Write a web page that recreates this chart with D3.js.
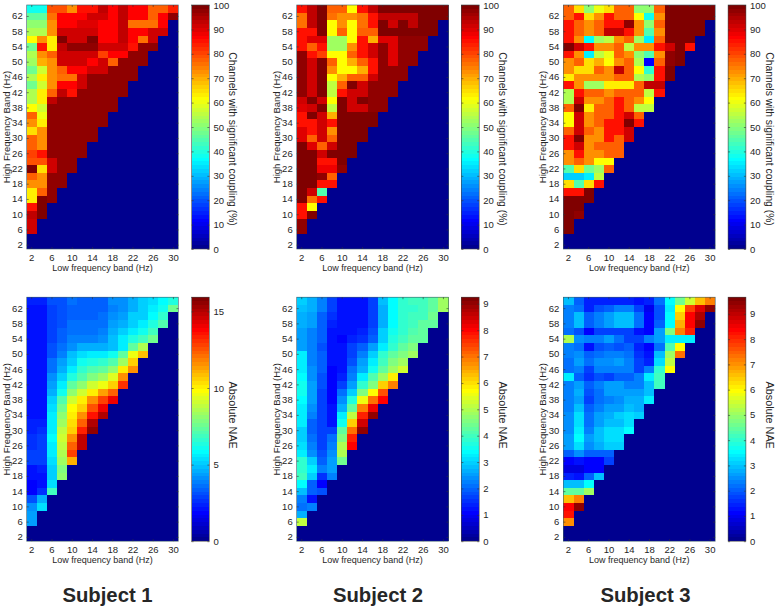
<!DOCTYPE html>
<html lang="en">

<head>
    <meta charset="utf-8">
    <title>Cross-frequency coupling by subject</title>
    <script type="text/javascript" src="https://d3js.org/d3.v7.min.js"></script>
    <style type="text/css">
        html, body {
            margin: 0;
            padding: 0;
            background: #fff;
        }

        svg text {
            font-family: "Liberation Sans", Arial, sans-serif;
            fill: #262626;
        }

        .domain {
            display: none;
        }

        .tick line {
            stroke: #333;
            stroke-width: 0.6;
        }
    </style>
</head>

<body>
    <script type="text/javascript">

        var lowBands = [2, 4, 6, 8, 10, 12, 14, 16, 18, 20, 22, 24, 26, 28, 30];
        var highBands = [64, 62, 60, 58, 56, 54, 52, 50, 48, 46, 44, 42, 40, 38, 36, 34,
            32, 30, 28, 26, 24, 22, 20, 18, 16, 14, 12, 10, 8, 6, 4, 2];
        var lowTicks = [2, 6, 10, 14, 18, 22, 26, 30];
        var highTicks = [2, 6, 10, 14, 18, 22, 26, 30, 34, 38, 42, 46, 50, 54, 58, 62];
        var percentTicks = [0, 10, 20, 30, 40, 50, 60, 70, 80, 90, 100];
        var subjects = ["Subject 1", "Subject 2", "Subject 3"];

        // every row runs from 64 Hz downwards, missing cells on the right are 0
        var coupling1 = [
            [38, 38, 79, 79, 72, 85, 85, 93, 86, 93, 86, 86, 78, 78, 83],
            [46, 46, 76, 86, 86, 86, 92, 92, 86, 93, 86, 86, 78, 86, 98],
            [50, 50, 72, 86, 86, 90, 90, 86, 86, 93, 76, 76, 76, 86],
            [54, 54, 72, 92, 92, 92, 92, 86, 86, 93, 86, 86, 92, 92],
            [62, 72, 63, 99, 92, 92, 99, 86, 86, 93, 86, 76, 92],
            [48, 85, 63, 93, 98, 98, 98, 92, 92, 92, 85, 98, 98],
            [54, 72, 77, 92, 92, 92, 92, 80, 86, 86, 98, 98],
            [52, 70, 72, 92, 92, 92, 86, 92, 78, 98, 98, 98],
            [48, 57, 72, 78, 86, 86, 92, 92, 98, 98, 98],
            [54, 64, 72, 76, 76, 92, 98, 98, 98, 98, 98],
            [48, 57, 72, 86, 86, 92, 98, 98, 98, 98],
            [54, 64, 78, 93, 85, 98, 98, 98, 98, 98],
            [54, 64, 93, 98, 98, 98, 98, 98, 98],
            [62, 57, 98, 98, 98, 98, 98, 98, 98],
            [78, 60, 98, 98, 98, 98, 98, 98],
            [72, 64, 98, 98, 98, 98, 98, 98],
            [65, 72, 98, 98, 98, 98, 98],
            [78, 72, 98, 98, 98, 98, 98],
            [78, 72, 98, 98, 98, 98],
            [80, 85, 98, 98, 98, 98],
            [79, 79, 92, 98, 98],
            [99, 65, 92, 98, 98],
            [78, 72, 98, 98],
            [72, 72, 98, 98],
            [64, 78, 98],
            [64, 99, 98],
            [85, 99],
            [93, 99],
            [92],
            [92]
        ];
        var coupling2 = [
            [85, 93, 99, 78, 78, 62, 85, 93, 99, 99, 99, 99, 99, 99, 99],
            [75, 93, 99, 75, 72, 72, 75, 85, 93, 93, 93, 93, 99, 99, 99],
            [75, 93, 99, 62, 72, 62, 75, 85, 99, 92, 99, 93, 99, 99],
            [85, 85, 99, 62, 78, 62, 78, 78, 99, 99, 99, 99, 99, 99],
            [85, 90, 90, 52, 52, 62, 85, 70, 90, 90, 98, 98, 98],
            [85, 78, 85, 52, 52, 72, 85, 92, 98, 90, 98, 98, 98],
            [98, 85, 80, 62, 62, 78, 85, 92, 98, 90, 98, 98],
            [98, 92, 99, 78, 62, 70, 78, 85, 98, 90, 98, 98],
            [98, 92, 99, 72, 62, 62, 70, 85, 98, 98, 98],
            [98, 92, 99, 62, 70, 78, 78, 92, 98, 98, 98],
            [98, 92, 99, 56, 78, 99, 92, 98, 98, 98],
            [98, 92, 99, 56, 85, 92, 92, 98, 98, 98],
            [92, 99, 92, 62, 99, 92, 99, 98, 98],
            [90, 92, 99, 56, 99, 92, 92, 98, 98],
            [85, 99, 92, 70, 99, 99, 99, 99],
            [85, 85, 92, 85, 99, 99, 99, 99],
            [90, 85, 92, 72, 99, 99, 99],
            [90, 78, 92, 78, 99, 99, 99],
            [99, 90, 78, 92, 99, 99],
            [99, 99, 92, 99, 99, 99],
            [99, 99, 85, 85, 99],
            [99, 99, 88, 88, 98],
            [99, 99, 98, 78],
            [99, 99, 85, 85],
            [99, 92, 45],
            [99, 75, 85],
            [85, 62],
            [85, 99],
            [98],
            [98]
        ];
        var coupling3 = [
            [78, 65, 50, 60, 65, 78, 78, 50, 50, 78, 99, 99, 99, 99, 99],
            [78, 85, 65, 72, 85, 78, 78, 62, 38, 72, 99, 99, 99, 99, 99],
            [85, 78, 72, 78, 85, 85, 98, 72, 50, 78, 99, 99, 99, 99],
            [85, 78, 72, 78, 93, 93, 85, 72, 45, 72, 99, 99, 99, 99],
            [85, 72, 37, 52, 56, 72, 78, 52, 35, 78, 99, 99, 99],
            [99, 92, 85, 72, 72, 78, 56, 72, 72, 85, 92, 99, 85],
            [85, 72, 35, 56, 60, 78, 72, 50, 45, 72, 98, 99],
            [72, 78, 65, 70, 62, 72, 78, 54, 12, 78, 98, 99],
            [72, 65, 65, 78, 72, 93, 78, 62, 42, 85, 99],
            [64, 72, 72, 72, 72, 78, 78, 54, 50, 85, 99],
            [85, 72, 52, 52, 64, 64, 64, 78, 93, 93],
            [54, 85, 78, 78, 72, 78, 78, 78, 56, 85],
            [54, 92, 72, 72, 78, 85, 78, 72, 62],
            [78, 99, 64, 78, 78, 85, 78, 56, 56],
            [62, 92, 72, 78, 78, 85, 92, 78],
            [62, 92, 72, 78, 85, 85, 99, 85],
            [78, 92, 78, 72, 85, 85, 92],
            [85, 99, 72, 72, 85, 78, 92],
            [85, 92, 72, 78, 78, 78],
            [72, 85, 72, 72, 78, 78],
            [72, 78, 72, 62, 62],
            [45, 65, 48, 52, 78],
            [32, 32, 35, 56],
            [65, 45, 65, 85],
            [85, 85, 99],
            [99, 99, 99],
            [99, 99],
            [99, 98],
            [99],
            [99]
        ];
        var nae1 = [
            [2.3, 2.3, 3.0, 3.2, 3.5, 3.4, 3.3, 3.3, 4.0, 4.2, 4.6, 5.0, 5.4, 5.9, 6.4],
            [2.2, 2.2, 2.8, 3.2, 3.4, 3.3, 3.3, 3.4, 3.8, 4.2, 4.7, 5.1, 5.6, 6.0, 7.5],
            [2.2, 2.2, 2.8, 3.1, 3.4, 3.3, 3.3, 3.5, 4.1, 4.3, 5.0, 5.2, 5.8, 6.5],
            [2.2, 2.2, 2.8, 3.2, 3.5, 3.5, 3.5, 3.7, 4.3, 4.5, 5.2, 5.6, 6.3, 7.0],
            [2.2, 2.2, 2.9, 3.3, 3.7, 3.7, 3.7, 3.9, 4.5, 5.0, 5.7, 6.1, 6.9],
            [2.2, 2.2, 2.9, 3.4, 3.8, 3.8, 3.9, 4.1, 4.8, 5.5, 6.3, 6.9, 7.5],
            [2.2, 2.2, 3.0, 3.6, 4.0, 4.5, 4.5, 4.5, 4.9, 5.6, 7.4, 8.6],
            [2.2, 2.2, 3.2, 3.9, 4.9, 5.3, 5.5, 5.6, 6.0, 7.3, 9.5, 10.8],
            [2.2, 2.2, 3.5, 4.3, 5.2, 6.0, 6.3, 6.5, 7.0, 8.4, 10.6],
            [2.2, 2.2, 3.7, 4.7, 5.7, 6.5, 7.0, 7.3, 8.0, 10.0, 11.5],
            [2.2, 2.2, 4.0, 5.1, 6.3, 7.0, 7.8, 8.3, 9.3, 11.5],
            [2.2, 2.2, 4.3, 5.7, 7.3, 8.0, 9.0, 9.7, 10.7, 13.0],
            [2.2, 2.2, 4.6, 6.2, 8.0, 9.0, 10.0, 11.3, 12.2],
            [2.2, 2.2, 5.0, 7.0, 9.0, 10.0, 11.5, 12.8, 14.0],
            [2.0, 2.2, 5.3, 7.5, 9.8, 10.7, 12.6, 14.0],
            [2.2, 2.2, 5.5, 8.0, 10.0, 11.5, 13.6, 15.0],
            [2.3, 2.4, 5.7, 8.4, 10.3, 12.3, 15.0],
            [2.4, 2.6, 5.7, 8.8, 10.6, 13.3, 15.5],
            [2.6, 2.9, 5.8, 9.0, 11.5, 14.8],
            [2.6, 2.9, 5.7, 8.8, 12.2, 14.8],
            [2.8, 2.9, 5.6, 8.6, 12.8],
            [2.8, 2.9, 5.4, 8.4, 11.0],
            [2.2, 2.4, 5.2, 7.8],
            [2.0, 2.2, 5.1, 8.0],
            [1.8, 2.0, 5.4],
            [1.9, 2.7, 6.8],
            [3.0, 4.5],
            [4.2, 5.3],
            [4.3],
            [4.3]
        ];
        var nae2 = [
            [2.9, 2.7, 2.2, 1.6, 1.3, 1.3, 1.3, 1.7, 2.8, 3.4, 3.8, 4.0, 4.0, 4.2, 4.8],
            [2.8, 2.7, 2.2, 1.6, 1.3, 1.2, 1.2, 1.6, 2.7, 3.4, 3.8, 3.9, 4.0, 4.2, 4.9],
            [2.7, 2.5, 2.0, 1.5, 1.2, 1.2, 1.2, 1.6, 2.7, 3.4, 3.8, 4.0, 4.0, 4.4],
            [2.7, 2.5, 1.9, 1.4, 1.2, 1.2, 1.3, 1.7, 2.7, 3.4, 3.8, 4.0, 4.2, 4.3],
            [2.6, 2.3, 1.9, 1.3, 1.2, 1.3, 1.4, 1.8, 2.9, 3.5, 3.9, 4.1, 4.2],
            [2.6, 2.3, 1.9, 1.3, 1.1, 1.4, 1.5, 2.0, 3.0, 3.7, 4.0, 4.2, 4.3],
            [2.5, 2.2, 1.8, 1.3, 1.2, 1.6, 2.0, 2.5, 3.3, 3.9, 4.2, 4.5],
            [3.2, 2.3, 1.9, 1.3, 1.2, 1.7, 2.2, 2.9, 3.8, 4.3, 4.6, 4.9],
            [3.3, 2.3, 2.0, 1.2, 1.2, 1.8, 2.5, 3.2, 4.0, 4.5, 4.9],
            [3.3, 2.4, 1.9, 1.1, 1.3, 2.1, 2.7, 3.6, 4.3, 4.9, 5.3],
            [3.4, 2.4, 1.8, 1.1, 1.4, 2.3, 3.2, 4.1, 4.9, 5.8],
            [3.5, 2.5, 1.8, 1.1, 1.7, 2.6, 3.8, 4.6, 6.1, 6.9],
            [3.5, 2.5, 1.7, 1.1, 2.1, 3.0, 4.5, 5.7, 7.3],
            [3.4, 2.5, 1.7, 1.1, 2.4, 3.7, 5.5, 7.0, 8.0],
            [3.3, 2.4, 1.7, 1.2, 2.7, 4.3, 6.8, 8.2],
            [3.2, 2.3, 1.6, 1.2, 3.2, 5.2, 7.8, 9.1],
            [3.2, 2.0, 1.6, 1.3, 3.6, 6.1, 8.5],
            [3.0, 2.0, 1.6, 1.6, 4.2, 7.0, 9.0],
            [3.0, 2.1, 1.6, 2.1, 4.5, 7.8],
            [3.1, 2.2, 1.6, 2.3, 5.0, 8.0],
            [3.3, 2.4, 1.8, 2.4, 5.0],
            [3.8, 3.0, 2.0, 2.5, 4.4],
            [3.8, 3.2, 2.3, 2.5],
            [4.0, 2.9, 1.5, 2.3],
            [3.4, 2.0, 1.1],
            [2.8, 1.9, 1.8],
            [2.2, 1.3],
            [2.1, 2.3],
            [2.7],
            [5.2]
        ];
        var nae3 = [
            [2.9, 2.1, 1.5, 1.5, 1.4, 1.5, 1.4, 1.3, 1.4, 2.2, 3.6, 4.6, 5.5, 6.5, 7.2],
            [2.4, 2.2, 1.5, 1.9, 2.0, 2.3, 2.3, 1.7, 1.0, 1.9, 3.4, 6.0, 7.7, 8.7, 9.5],
            [2.4, 2.9, 2.1, 2.4, 2.7, 3.0, 3.0, 2.2, 1.1, 1.9, 3.5, 6.4, 8.4, 9.2],
            [2.4, 2.9, 2.1, 2.4, 2.7, 3.0, 3.0, 2.2, 1.1, 2.0, 3.6, 6.7, 8.4, 9.5],
            [2.2, 1.9, 1.2, 1.7, 1.7, 1.8, 1.8, 1.3, 1.1, 2.6, 4.7, 7.1, 8.0],
            [5.2, 2.5, 2.3, 2.4, 2.7, 2.2, 1.7, 1.7, 2.4, 2.6, 3.4, 3.4, 3.4],
            [2.3, 2.2, 1.3, 1.9, 2.0, 1.9, 2.0, 1.5, 1.2, 2.2, 4.3, 6.0],
            [2.3, 2.5, 2.1, 2.2, 2.3, 2.3, 2.2, 1.6, 1.3, 2.9, 5.0, 7.3],
            [2.2, 2.6, 2.2, 2.5, 2.5, 2.7, 2.4, 1.8, 1.4, 3.3, 5.3],
            [2.2, 2.4, 1.8, 2.3, 2.4, 2.4, 2.3, 1.7, 2.3, 4.0, 6.0],
            [3.4, 2.1, 1.6, 1.9, 1.8, 2.0, 2.0, 2.4, 3.4, 4.2],
            [2.3, 2.6, 2.0, 2.3, 2.6, 2.6, 2.4, 2.3, 2.9, 4.2],
            [2.3, 2.8, 1.9, 2.2, 2.6, 2.7, 2.7, 2.6, 3.0],
            [2.3, 2.6, 1.7, 2.2, 2.4, 2.5, 2.8, 2.8, 3.4],
            [2.4, 3.0, 2.0, 2.4, 2.6, 2.6, 2.9, 2.8],
            [2.5, 3.3, 2.2, 2.6, 2.8, 3.1, 3.3, 3.1],
            [2.5, 3.3, 2.2, 2.7, 3.0, 3.0, 3.3],
            [2.5, 3.4, 2.3, 2.9, 3.2, 3.2, 3.5],
            [2.7, 3.5, 2.6, 2.9, 3.3, 3.3],
            [2.6, 3.2, 2.5, 2.8, 3.1, 3.1],
            [2.1, 2.5, 2.1, 2.1, 2.1],
            [1.2, 1.3, 1.1, 1.1, 1.7],
            [0.9, 0.9, 1.1, 1.1],
            [1.5, 1.3, 2.0, 3.0],
            [2.9, 2.9, 3.6],
            [4.4, 4.4, 5.0],
            [6.6, 7.2],
            [8.4, 9.5],
            [8.2],
            [7.0]
        ];

        var w = 777;
        var h = 609;
        var plotW = 151.8;
        var plotH = 244;
        var cbW = 17.8;
        var plotLeft = [26.7, 296.7, 563.4];
        var cbLeft = [191.6, 461.4, 728.1];
        var rowTop = [5, 297.2];
        var subjectX = [107.5, 378, 645.5];

        // MATLAB jet with 64 levels
        var jetLevels = d3.range(64);
        var jet = d3.scaleLinear()
            .domain([0, 7, 23, 39, 55, 63])
            .range(["#00008f", "#0000ff", "#00ffff", "#ffff00", "#ff0000", "#800000"]);

        //Create SVG element
        var svg = d3.select("body")
            .append("svg")
            .attr("width", w)
            .attr("height", h)
            .style("display", "block");

        function drawHeatmap(left, top, matrix, maxValue, cbRight, cbTicks, cbLabel, cbLabelShift, cbLabelSize) {
            var g = svg.append("g").attr("transform", "translate(" + left + "," + top + ")");
            var x = d3.scaleBand().domain(lowBands).range([0, plotW]);
            var y = d3.scaleBand().domain(highBands).range([0, plotH]);
            var level = d3.scaleQuantize().domain([0, maxValue]).range(jetLevels);

            var cells = [];
            highBands.forEach(function (hb, r) {
                lowBands.forEach(function (lb, c) {
                    var row = matrix[r] || [];
                    cells.push({ low: lb, high: hb, value: row[c] === undefined ? 0 : row[c] });
                });
            });

            g.selectAll("rect")
                .data(cells)
                .enter()
                .append("rect")
                .attr("x", function (d) { return x(d.low); })
                .attr("y", function (d) { return y(d.high); })
                .attr("width", x.bandwidth())
                .attr("height", y.bandwidth())
                .attr("shape-rendering", "crispEdges")
                .attr("fill", function (d) { return jet(level(d.value)); });

            g.append("rect")
                .attr("width", plotW)
                .attr("height", plotH)
                .attr("fill", "none")
                .attr("stroke", "#3a5a6a")
                .attr("stroke-width", 0.6);

            var xAxis = g.append("g")
                .attr("transform", "translate(0," + plotH + ")")
                .call(d3.axisBottom(x).tickValues(lowTicks).tickSize(-2).tickPadding(5));
            xAxis.selectAll("text").attr("font-size", "9.5px");

            var yAxis = g.append("g")
                .call(d3.axisLeft(y).tickValues(highTicks).tickSize(-2).tickPadding(4));
            yAxis.selectAll("text").attr("font-size", "9.5px");

            // box ticks on the far sides, no labels
            g.append("g")
                .call(d3.axisTop(x).tickValues(lowTicks).tickSize(-2).tickFormat(""));
            g.append("g")
                .attr("transform", "translate(" + plotW + ",0)")
                .call(d3.axisRight(y).tickValues(highTicks).tickSize(-2).tickFormat(""));

            g.append("text")
                .text("Low frequency band (Hz)")
                .attr("x", plotW / 2)
                .attr("y", plotH + 22)
                .attr("text-anchor", "middle")
                .attr("font-size", "9px");

            g.append("text")
                .text("High Frequency Band (Hz)")
                .attr("transform", "translate(-17," + (plotH / 2) + ") rotate(-90)")
                .attr("text-anchor", "middle")
                .attr("font-size", "9.5px");

            // colour bar
            var cb = svg.append("g").attr("transform", "translate(" + cbRight + "," + top + ")");
            var cbBand = d3.scaleBand().domain(jetLevels).range([plotH, 0]);
            cb.selectAll("rect")
                .data(jetLevels)
                .enter()
                .append("rect")
                .attr("y", function (d) { return cbBand(d); })
                .attr("width", cbW)
                .attr("height", cbBand.bandwidth())
                .attr("shape-rendering", "crispEdges")
                .attr("fill", function (d) { return jet(d); });

            cb.append("rect")
                .attr("width", cbW)
                .attr("height", plotH)
                .attr("fill", "none")
                .attr("stroke", "#444")
                .attr("stroke-width", 0.6);

            var cbScale = d3.scaleLinear().domain([0, maxValue]).range([plotH, 0]);
            var cbAxis = cb.append("g")
                .attr("transform", "translate(" + cbW + ",0)")
                .call(d3.axisRight(cbScale).tickValues(cbTicks).tickFormat(d3.format("d")).tickSize(-2).tickPadding(4));
            cbAxis.selectAll("text").attr("font-size", "9.5px");
            cb.append("g")
                .call(d3.axisLeft(cbScale).tickValues(cbTicks).tickSize(-2).tickFormat(""));

            cb.append("text")
                .text(cbLabel)
                .attr("transform", "translate(" + (cbW + 20) + "," + (plotH / 2 + cbLabelShift) + ") rotate(90)")
                .attr("text-anchor", "middle")
                .attr("font-size", cbLabelSize);
        }

        var couplingLabel = "Channels with significant coupling (%)";
        var naeLabel = "Absolute NAE";

        drawHeatmap(plotLeft[0], rowTop[0], coupling1, 100, cbLeft[0], percentTicks, couplingLabel, 12, "10.3px");
        drawHeatmap(plotLeft[1], rowTop[0], coupling2, 100, cbLeft[1], percentTicks, couplingLabel, 12, "10.3px");
        drawHeatmap(plotLeft[2], rowTop[0], coupling3, 100, cbLeft[2], percentTicks, couplingLabel, 12, "10.3px");
        drawHeatmap(plotLeft[0], rowTop[1], nae1, 15.93, cbLeft[0], [0, 5, 10, 15], naeLabel, -4, "10.8px");
        drawHeatmap(plotLeft[1], rowTop[1], nae2, 9.25, cbLeft[1], d3.range(0, 10), naeLabel, -4, "10.8px");
        drawHeatmap(plotLeft[2], rowTop[1], nae3, 9.66, cbLeft[2], d3.range(0, 10), naeLabel, -4, "10.8px");

        svg.selectAll(".subject")
            .data(subjects)
            .enter()
            .append("text")
            .attr("class", "subject")
            .text(function (d) { return d; })
            .attr("x", function (d, i) { return subjectX[i]; })
            .attr("y", 602)
            .attr("text-anchor", "middle")
            .attr("font-size", "20.3px")
            .attr("font-weight", "bold");

    </script>
</body>


</html>
